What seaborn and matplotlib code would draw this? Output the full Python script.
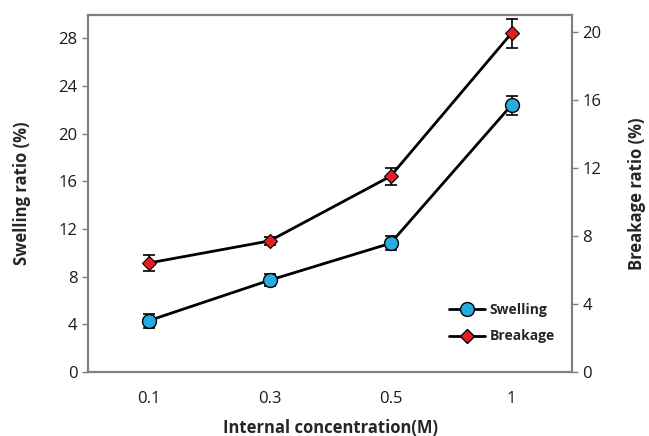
import matplotlib
matplotlib.use("Agg")
import matplotlib.pyplot as plt
import seaborn as sns
import pandas as pd
from matplotlib.lines import Line2D

categories = ["0.1", "0.3", "0.5", "1"]
swelling = [4.3, 7.7, 10.8, 22.4]
swelling_err = [0.6, 0.5, 0.6, 0.8]
breakage = [6.4, 7.7, 11.5, 19.9]
breakage_err = [0.45, 0.25, 0.5, 0.85]
left_ticks = [0, 4, 8, 12, 16, 20, 24, 28]
right_ticks = [0, 4, 8, 12, 16, 20]

sns.set_style("ticks")
plt.rcParams['font.family'] = ['Open Sans', 'DejaVu Sans']

fig = plt.figure(figsize=(6.49, 4.36), dpi=100)
ax = fig.add_axes([0.1356, 0.1468, 0.7458, 0.8199])
ax2 = ax.twinx()

blue = "#29ABE2"
red = "#E31E24"

xpos = list(range(len(categories)))
df_s = pd.DataFrame({"x": xpos, "y": swelling})
df_b = pd.DataFrame({"x": xpos, "y": breakage})

ax.errorbar(xpos, swelling, yerr=swelling_err, fmt="none", ecolor="black",
            elinewidth=1.2, capsize=4, capthick=1.2, zorder=2)
sns.lineplot(data=df_s, x="x", y="y", ax=ax, color="black", linewidth=2,
             marker="o", markersize=10, markerfacecolor=blue,
             markeredgecolor="black", markeredgewidth=1, zorder=3)

ax2.errorbar(xpos, breakage, yerr=breakage_err, fmt="none", ecolor="black",
             elinewidth=1.2, capsize=4, capthick=1.2, zorder=2)
sns.lineplot(data=df_b, x="x", y="y", ax=ax2, color="black", linewidth=2,
             marker="D", markersize=7.5, markerfacecolor=red,
             markeredgecolor="black", markeredgewidth=0.8, zorder=3)

ax.set_xlim(-0.5, 3.5)
ax.set_ylim(0, 30)
ax2.set_ylim(0, 21)
ax.set_xticks(xpos)
ax.set_xticklabels(categories)
ax.set_yticks(left_ticks)
ax2.set_yticks(right_ticks)

ax.set_xlabel("Internal concentration(M)", fontsize=12, fontweight="bold", labelpad=8)
ax.set_ylabel("Swelling ratio (%)", fontsize=12, fontweight="bold", labelpad=20)
ax2.set_ylabel("Breakage ratio (%)", fontsize=12, fontweight="bold", labelpad=19)

for a in (ax, ax2):
    a.tick_params(axis="both", labelsize=12, width=1, length=4, color="#808080",
                  labelcolor="#1a1a1a")
    for s in a.spines.values():
        s.set_visible(True)
        s.set_color("#808080")
        s.set_linewidth(1.5)
ax.tick_params(axis="x", length=0, pad=14)
ax.spines["bottom"].set_color("#222222")
ax.spines["top"].set_color("#444444")

handles = [
    Line2D([0], [0], color="black", linewidth=2, marker="o", markersize=10,
           markerfacecolor=blue, markeredgecolor="black"),
    Line2D([0], [0], color="black", linewidth=2, marker="D", markersize=7.5,
           markerfacecolor=red, markeredgecolor="black"),
]
leg = ax.legend(handles, ["Swelling", "Breakage"], loc="lower right",
                bbox_to_anchor=(0.99, 0.045), frameon=False,
                prop={"weight": "bold", "size": 10}, handlelength=2.6,
                labelspacing=0.9, handletextpad=0.3)
if ax2.get_legend():
    ax2.get_legend().remove()

fig.savefig("out.png", dpi=100)
